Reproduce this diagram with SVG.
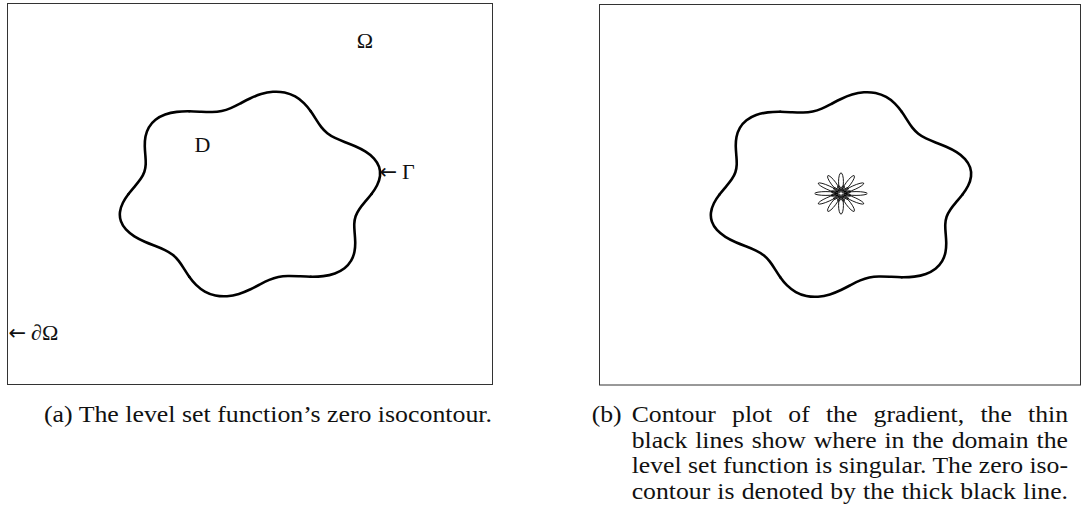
<svg xmlns="http://www.w3.org/2000/svg" xmlns:xlink="http://www.w3.org/1999/xlink" width="1082" height="517" viewBox="0 0 1082 517">
<style>
.box{fill:none;stroke:#333;stroke-width:1}
.iso{fill:none;stroke:#000;stroke-width:2.6;stroke-linecap:round;stroke-linejoin:round;vector-effect:non-scaling-stroke}
.thin{fill:none;stroke:#000;stroke-width:0.9;vector-effect:non-scaling-stroke}
.lbl{font-family:"Liberation Serif",serif;font-size:22px;fill:#111}
.arr{font-family:"DejaVu Sans",sans-serif;font-size:21px}
.cap{font-family:"Liberation Serif",serif;font-size:24px;fill:#111}
</style>
<defs>
<path id="lobe" class="iso" d="M500,0 C508.73,14.54 516.80,29.89 523.00,45.76 C529.20,61.63 533.50,78.02 535.05,94.34 C536.60,110.66 535.40,126.90 531.26,142.35 C527.12,157.80 520.04,172.46 510.53,185.82 C501.02,199.18 489.11,211.23 475.81,221.88 C462.51,232.53 447.84,241.77 433.01,250 C418.18,258.23 403.22,265.47 389.10,272.45 C374.98,279.43 361.73,286.19 349.85,293.56 C337.97,300.93 327.46,308.94 318.20,318.20 C308.94,327.46 300.93,337.97 293.56,349.85 C286.19,361.73 279.43,374.98 272.45,389.10 C265.47,403.22 258.23,418.18 250,433.01"/>
<g id="petals">
<ellipse class="thin" cx="62" cy="0" rx="46" ry="10"/>
<ellipse class="thin" cx="62" cy="0" rx="46" ry="10" transform="rotate(30)"/>
<ellipse class="thin" cx="62" cy="0" rx="46" ry="10" transform="rotate(60)"/>
<ellipse class="thin" cx="62" cy="0" rx="46" ry="10" transform="rotate(90)"/>
<ellipse class="thin" cx="62" cy="0" rx="46" ry="10" transform="rotate(120)"/>
<ellipse class="thin" cx="62" cy="0" rx="46" ry="10" transform="rotate(150)"/>
<ellipse class="thin" cx="62" cy="0" rx="46" ry="10" transform="rotate(180)"/>
<ellipse class="thin" cx="62" cy="0" rx="46" ry="10" transform="rotate(210)"/>
<ellipse class="thin" cx="62" cy="0" rx="46" ry="10" transform="rotate(240)"/>
<ellipse class="thin" cx="62" cy="0" rx="46" ry="10" transform="rotate(270)"/>
<ellipse class="thin" cx="62" cy="0" rx="46" ry="10" transform="rotate(300)"/>
<ellipse class="thin" cx="62" cy="0" rx="46" ry="10" transform="rotate(330)"/>
</g>
<g id="inner">
<ellipse class="thin" cx="27" cy="0" rx="15" ry="6" transform="rotate(15)"/>
<ellipse class="thin" cx="27" cy="0" rx="15" ry="6" transform="rotate(45)"/>
<ellipse class="thin" cx="27" cy="0" rx="15" ry="6" transform="rotate(75)"/>
<ellipse class="thin" cx="27" cy="0" rx="15" ry="6" transform="rotate(105)"/>
<ellipse class="thin" cx="27" cy="0" rx="15" ry="6" transform="rotate(135)"/>
<ellipse class="thin" cx="27" cy="0" rx="15" ry="6" transform="rotate(165)"/>
<ellipse class="thin" cx="27" cy="0" rx="15" ry="6" transform="rotate(195)"/>
<ellipse class="thin" cx="27" cy="0" rx="15" ry="6" transform="rotate(225)"/>
<ellipse class="thin" cx="27" cy="0" rx="15" ry="6" transform="rotate(255)"/>
<ellipse class="thin" cx="27" cy="0" rx="15" ry="6" transform="rotate(285)"/>
<ellipse class="thin" cx="27" cy="0" rx="15" ry="6" transform="rotate(315)"/>
<ellipse class="thin" cx="27" cy="0" rx="15" ry="6" transform="rotate(345)"/>
<circle class="thin" cx="0" cy="0" r="9"/>
</g>
</defs>
<rect width="1082" height="517" fill="#fff"/>

<g id="panel-a">
<rect class="box" x="7.5" y="3.5" width="485" height="381"/>
<g id="gamma-a" transform="translate(250,194) scale(0.243,-0.191)">
<use xlink:href="#lobe"/>
<use xlink:href="#lobe" transform="rotate(60)"/>
<use xlink:href="#lobe" transform="rotate(120)"/>
<use xlink:href="#lobe" transform="rotate(180)"/>
<use xlink:href="#lobe" transform="rotate(240)"/>
<use xlink:href="#lobe" transform="rotate(300)"/>
</g>
<text class="lbl" x="365" y="47.5" text-anchor="middle" font-size="23">Ω</text>
<text class="lbl" x="194.5" y="152.3">D</text>
<text class="lbl" x="379.5" y="179"><tspan class="arr">←</tspan><tspan dx="5">Γ</tspan></text>
<text class="lbl" x="8.5" y="340"><tspan class="arr">←</tspan><tspan dx="5">∂Ω</tspan></text>
</g>

<g id="panel-b">
<rect class="box" x="599.5" y="4.5" width="481" height="380.5"/>
<g id="gamma-b" transform="translate(841,194.5) scale(0.243,-0.191)">
<use xlink:href="#lobe"/>
<use xlink:href="#lobe" transform="rotate(60)"/>
<use xlink:href="#lobe" transform="rotate(120)"/>
<use xlink:href="#lobe" transform="rotate(180)"/>
<use xlink:href="#lobe" transform="rotate(240)"/>
<use xlink:href="#lobe" transform="rotate(300)"/>
</g>
<g id="singular" transform="translate(841,193.5) scale(0.243,-0.191)">
<use xlink:href="#petals"/>
<use xlink:href="#inner"/>
</g>
</g>

<g id="captions">
<text class="cap" x="44" y="421.7" textLength="448" lengthAdjust="spacingAndGlyphs">(a) The level set function’s zero isocontour.</text>
<text class="cap" x="591.7" y="421.7" textLength="30" lengthAdjust="spacingAndGlyphs">(b)</text>
<text class="cap" x="631.7" y="421.7" word-spacing="9.2" textLength="436.3" lengthAdjust="spacingAndGlyphs">Contour plot of the gradient, the thin</text>
<text class="cap" x="631.7" y="447.5" word-spacing="1.4" textLength="436.3" lengthAdjust="spacingAndGlyphs">black lines show where in the domain the</text>
<text class="cap" x="631.7" y="473.3" textLength="436.3" lengthAdjust="spacingAndGlyphs">level set function is singular. The zero iso-</text>
<text class="cap" x="631.7" y="499.1" word-spacing="0.7" textLength="436.3" lengthAdjust="spacingAndGlyphs">contour is denoted by the thick black line.</text>
</g>
</svg>
